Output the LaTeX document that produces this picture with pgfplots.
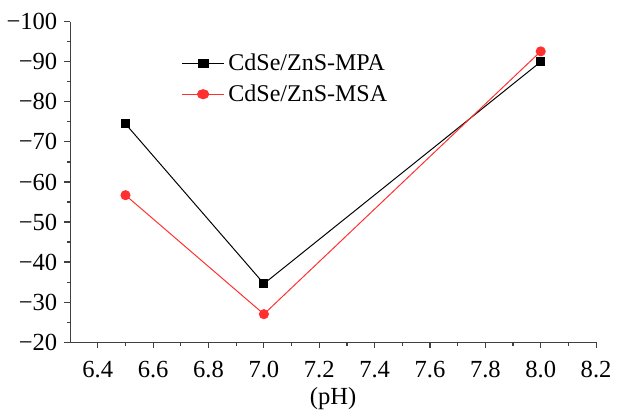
\documentclass[border=0pt]{standalone}
\usepackage{pgfplots}
\pgfplotsset{compat=1.18}
\usepackage{fontspec}
\setmainfont{Liberation Serif}
\definecolor{axgray}{HTML}{404040}
\definecolor{msared}{HTML}{FF3030}

\begin{document}
\begin{tikzpicture}
\begin{axis}[
  width=267.5pt, height=163pt, scale only axis,
  font=\rmfamily\fontsize{12.5}{14}\selectfont,
  xmin=6.3, xmax=8.2, ymin=-100, ymax=-20,
  y dir=reverse,
  axis lines*=left,
  axis line style={axgray, line width=0.6pt},
  xtick={6.4,6.6,...,8.21}, minor x tick num=1,
  xticklabels={6.4,6.6,6.8,7.0,7.2,7.4,7.6,7.8,8.0,8.2},
  ytick={-100,-90,...,-20}, minor y tick num=1,
  yticklabels={−100,−90,−80,−70,−60,−50,−40,−30,−20},
  ticklabel style={font=\rmfamily\fontsize{12.5}{14}\selectfont},
  xticklabel style={yshift=-3pt},
  tick align=outside, tick pos=left,
  major tick length=3pt, minor tick length=1.7pt,
  tick style={axgray, line width=0.6pt},
  xlabel={(pH)},
  xlabel style={yshift=2pt},
  legend style={draw=none, fill=none, at={(0.2,0.925)}, anchor=north west,
    font=\rmfamily\fontsize{12.2}{14}\selectfont, row sep=1.5pt},
  legend image post style={xscale=1.25},
  legend cell align=left,
]
\addplot[black, line width=0.5pt, mark=square*, mark size=2pt] coordinates {
  (6.5,-74.5) (7.0,-34.6) (8.0,-90.0)};
\addlegendentry{CdSe/ZnS-MPA}
\addplot[msared, line width=0.5pt, mark=*, mark size=2.3pt] coordinates {
  (6.5,-56.7) (7.0,-27.0) (8.0,-92.6)};
\addlegendentry{CdSe/ZnS-MSA}
\end{axis}
\path ([yshift=3.5pt]current axis.outer north);
\end{tikzpicture}
\end{document}
